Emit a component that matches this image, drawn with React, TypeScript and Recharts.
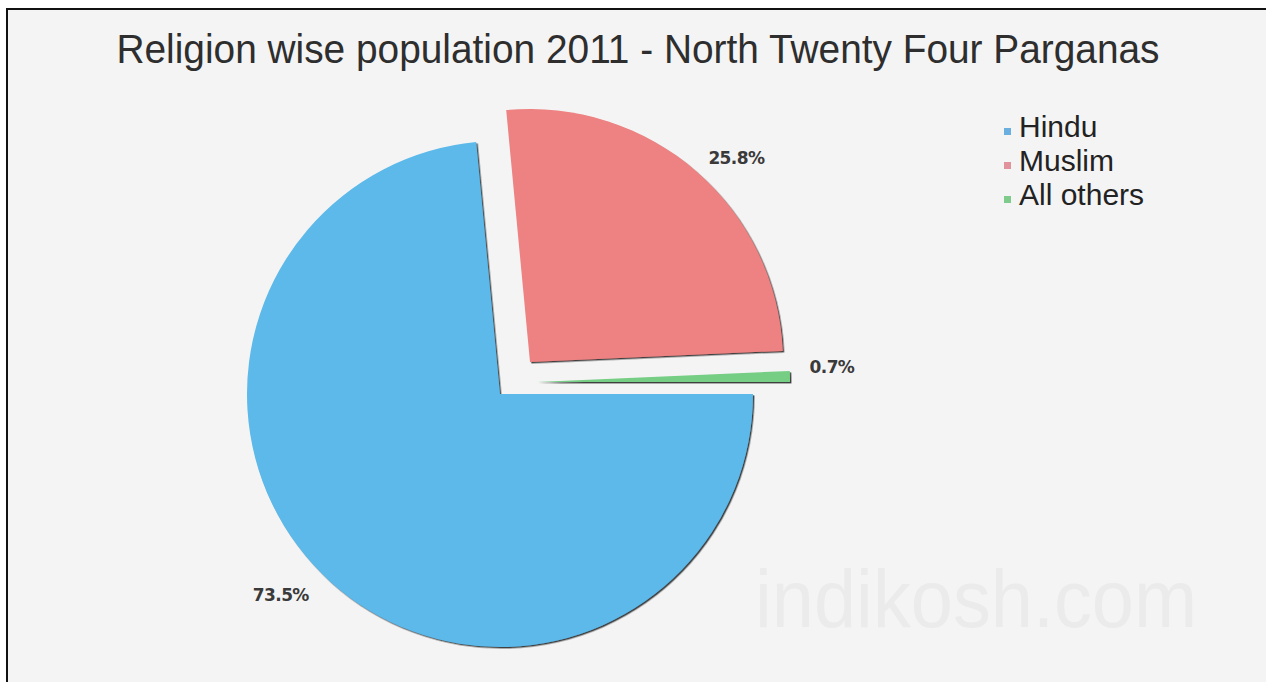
import React from 'react';
import { PieChart, Pie, Cell, Legend } from 'recharts';

// ---- data ----
const religions = ['Hindu', 'Muslim', 'All others'];
const shares = [73.5, 25.8, 0.7];
const sliceColors = ['#5CB9EA', '#EE8282', '#76CE84'];
const legendColors = ['#6AAFE0', '#E0939B', '#7FCB8B'];
const TITLE = 'Religion wise population 2011 - North Twenty Four Parganas';
const WATERMARK = 'indikosh.com';

const data = religions.map((name, i) => ({ name, value: shares[i] }));

// ---- layout ----
const W = 1266;
const H = 682;
const CX = 500;
const CY = 394;
const R = 253;
const explode = [
  [0, 0],
  [30, -32],
  [37, -12],
];
const labelNudge = [
  [-22, -16],
  [14, 17],
  [2, -9],
];
const RAD = Math.PI / 180;

const makeLabel = (idx: number) => (props: any) => {
  if (props.index !== idx) return <g />;
  const { cx, cy, midAngle, outerRadius, value } = props;
  const r = outerRadius + 40;
  const x = cx + r * Math.cos(-midAngle * RAD) + labelNudge[idx][0];
  const y = cy + r * Math.sin(-midAngle * RAD) + labelNudge[idx][1];
  return (
    <text
      x={x}
      y={y}
      textAnchor="middle"
      dominantBaseline="central"
      fill="#3a3a3a"
      style={{ fontFamily: "'DejaVu Sans', sans-serif", fontWeight: 700, fontSize: 17, letterSpacing: -0.6 }}
    >
      {`${value}%`}
    </text>
  );
};

const LegendContent = () => (
  <div style={{ fontFamily: "'Liberation Sans', Arial, sans-serif", fontSize: 30, color: '#222', lineHeight: '34px' }}>
    {religions.map((name, i) => (
      <div key={name} style={{ display: 'flex', alignItems: 'center', whiteSpace: 'nowrap' }}>
        <span
          style={{
            display: 'inline-block',
            width: 7,
            height: 7,
            background: legendColors[i],
            marginRight: 8,
            marginTop: 8,
          }}
        />
        <span>{name}</span>
      </div>
    ))}
  </div>
);

export default function App() {
  return (
    <div style={{ position: 'absolute', left: 0, top: 0, width: W, height: H, overflow: 'hidden' }}>
      <svg width={W} height={H} style={{ position: 'absolute', left: 0, top: 0 }}>
        <defs>
          <filter id="sliceShadow" filterUnits="userSpaceOnUse" x={0} y={0} width={W} height={H}>
            <feDropShadow dx={1.4} dy={1.4} stdDeviation={0.6} floodColor="#1a1a1a" floodOpacity={0.85} />
          </filter>
        </defs>
        <rect x={0} y={0} width={W} height={H} fill="#ffffff" />
        <rect x={6} y={8} width={W - 6} height={H - 8} fill="#f4f4f4" />
        <rect x={6} y={8} width={2} height={H - 8} fill="#111" />
        <rect x={6} y={8} width={W - 6} height={2} fill="#111" />
        <text
          x={638}
          y={63}
          textAnchor="middle"
          textLength={1043}
          lengthAdjust="spacingAndGlyphs"
          fill="#2e2e2e"
          style={{ fontFamily: "'Liberation Sans', Arial, sans-serif", fontSize: 41 }}
        >
          {TITLE}
        </text>
        <text
          x={755}
          y={627}
          textLength={442}
          lengthAdjust="spacingAndGlyphs"
          fill="#ebebeb"
          style={{ fontFamily: "'Liberation Sans', Arial, sans-serif", fontSize: 82 }}
        >
          {WATERMARK}
        </text>
      </svg>
      <div style={{ position: 'absolute', left: 0, top: 0 }}>
        <PieChart width={W} height={H} margin={{ top: 0, right: 0, bottom: 0, left: 0 }}>
          {religions.map((name, idx) => (
            <Pie
              key={name}
              data={data}
              dataKey="value"
              nameKey="name"
              cx={CX + explode[idx][0]}
              cy={CY + explode[idx][1]}
              outerRadius={R}
              innerRadius={0}
              startAngle={0}
              endAngle={-360}
              stroke="none"
              labelLine={false}
              label={makeLabel(idx)}
              isAnimationActive={false}
              legendType="none"
            >
              {data.map((d, i) => (
                <Cell
                  key={d.name}
                  fill={i === idx ? sliceColors[i] : 'transparent'}
                  filter={i === idx ? 'url(#sliceShadow)' : undefined}
                />
              ))}
            </Pie>
          ))}
          <Legend
            layout="vertical"
            align="right"
            verticalAlign="middle"
            content={<LegendContent />}
            wrapperStyle={{ position: 'absolute', left: 1004, top: 110, width: 200 }}
          />
        </PieChart>
      </div>
    </div>
  );
}
